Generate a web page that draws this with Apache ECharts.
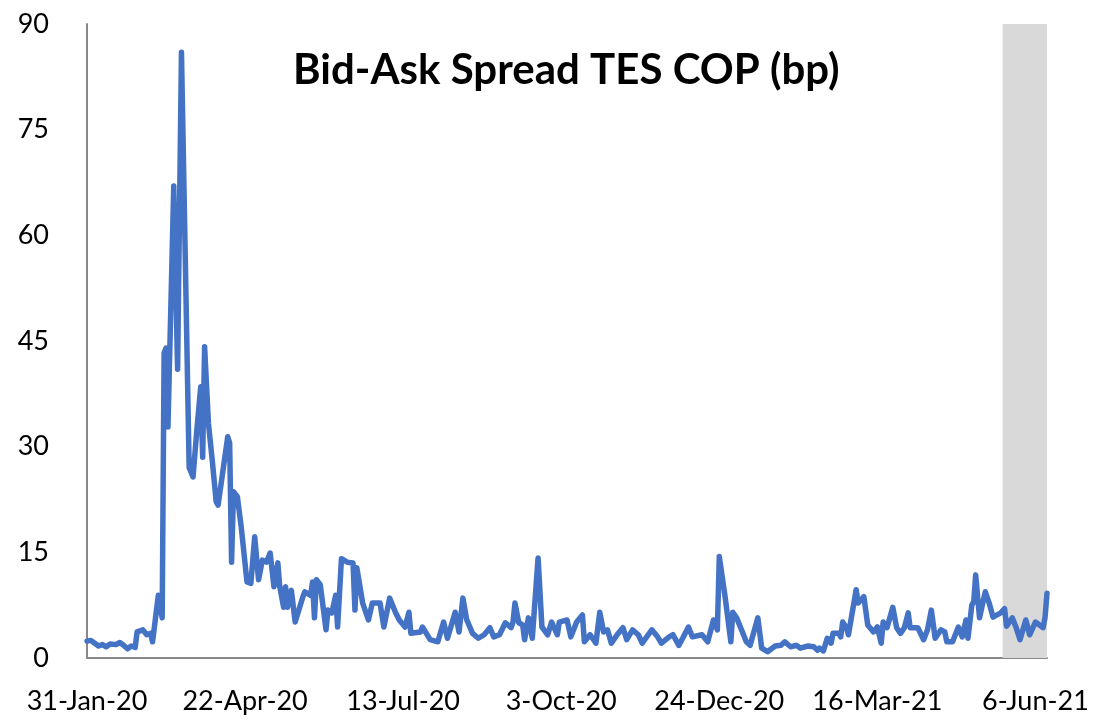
<!DOCTYPE html>
<html>
<head>
<meta charset="utf-8">
<script src="https://cdn.jsdelivr.net/npm/echarts@6/dist/echarts.min.js"></script>
<style>
  html, body { margin: 0; padding: 0; background: #fff; }
  #chart { width: 1102px; height: 725px; }
</style>
</head>
<body>
<div id="chart"></div>
<script>
  // days counted from 31-Jan-20
  const startDate = Date.UTC(2020, 0, 31);
  const days = [
    0, 2, 4, 6, 8, 10, 12, 15, 17, 19, 21, 23, 25, 26, 29, 31, 33, 34, 37, 39,
    40, 41, 42, 45, 47, 49, 53, 55, 57, 59, 60, 61, 63, 65, 67, 68, 73, 74, 75, 76,
    78, 80, 83, 85, 87, 89, 91, 93, 95, 97, 99, 100, 102, 103, 104, 106, 108, 112, 113, 116,
    117, 118, 119, 121, 124, 125, 127, 129, 130, 132, 135, 138, 139, 140, 143, 146, 148, 152, 154, 157,
    160, 162, 165, 167, 168, 173, 174, 178, 182, 185, 187, 191, 193, 195, 197, 200, 203, 206, 209, 211,
    214, 217, 220, 221, 222, 224, 226, 227, 229, 231, 234, 236, 239, 241, 244, 245, 249, 251, 254, 257,
    258, 261, 264, 266, 268, 270, 272, 275, 278, 280, 283, 286, 288, 293, 296, 298, 302, 304, 307, 309,
    312, 314, 319, 322, 325, 327, 328, 331, 334, 335, 337, 340, 342, 344, 348, 350, 353, 354, 357, 360,
    362, 365, 368, 370, 374, 377, 379, 380, 382, 384, 386, 387, 390, 391, 392, 394, 395, 399, 400, 403,
    405, 408, 410, 412, 413, 415, 418, 420, 422, 424, 426, 427, 431, 434, 436, 438, 440, 443, 445, 446,
    449, 452, 454, 456, 457, 459, 460, 461, 462, 463, 465, 466, 468, 470, 474, 476, 477, 480, 482, 484,
    487, 489, 492, 496, 497, 498
  ];
  const spread = [
    2.4, 2.5, 2.1, 1.7, 1.9, 1.6, 2.0, 1.9, 2.2, 1.8, 1.3, 1.7, 1.5, 3.7, 4.0, 3.3, 3.5, 2.3, 8.9, 5.7,
    43.3, 44.0, 32.8, 67.0, 41.0, 86.0, 27.0, 25.7, 32.4, 38.5, 28.5, 44.2, 33.3, 28.0, 22.2, 21.7, 31.4, 30.5, 13.6, 23.6,
    22.9, 18.6, 10.8, 10.6, 17.2, 11.1, 13.9, 13.6, 14.9, 10.1, 13.5, 10.1, 7.2, 10.1, 7.2, 9.6, 5.1, 8.7, 9.4, 8.9,
    10.8, 5.7, 11.1, 10.4, 4.0, 6.8, 6.4, 8.9, 4.4, 14.1, 13.6, 13.5, 6.8, 12.8, 7.8, 5.4, 7.8, 7.8, 4.4, 8.5,
    6.5, 5.4, 4.4, 6.5, 3.5, 3.7, 4.4, 2.6, 2.3, 5.1, 2.8, 6.5, 3.7, 8.5, 5.4, 3.5, 2.8, 3.3, 4.3, 3.0,
    3.3, 5.0, 4.3, 5.1, 7.8, 5.0, 4.7, 2.6, 5.7, 2.8, 14.2, 4.4, 3.3, 5.1, 3.3, 5.1, 5.4, 3.0, 5.1, 6.1,
    2.3, 3.3, 2.1, 6.5, 3.7, 4.0, 2.1, 3.3, 4.3, 2.6, 4.0, 3.3, 2.1, 4.0, 3.0, 2.1, 3.0, 3.3, 1.8, 2.8,
    4.4, 3.0, 3.3, 2.3, 5.4, 4.0, 14.4, 8.7, 2.3, 6.5, 5.7, 3.7, 2.3, 1.8, 5.7, 1.4, 0.9, 0.9, 1.7, 1.8,
    2.3, 1.6, 1.8, 1.4, 1.7, 1.6, 1.1, 1.4, 1.0, 2.8, 2.1, 3.5, 3.5, 3.0, 5.1, 4.3, 3.3, 9.7, 7.8, 8.7,
    4.7, 3.7, 4.4, 2.1, 5.1, 4.3, 7.2, 4.3, 3.5, 4.3, 6.4, 4.3, 4.3, 2.6, 4.0, 6.8, 2.8, 4.0, 3.7, 2.3,
    2.3, 4.4, 3.0, 5.4, 2.8, 7.5, 8.0, 11.8, 11.8, 5.7, 8.2, 9.4, 7.8, 5.8, 6.4, 7.0, 4.5, 5.7, 4.3, 2.6,
    5.4, 3.3, 5.1, 4.3, 5.8, 9.2
  ];
  const shadeFrom = 475;  // ~20-May-21
  const shadeTo = 498;

  const months = ['Jan','Feb','Mar','Apr','May','Jun','Jul','Aug','Sep','Oct','Nov','Dec'];
  function fmtDay(d) {
    const t = new Date(startDate + d * 86400000);
    return t.getUTCDate() + '-' + months[t.getUTCMonth()] + '-' + String(t.getUTCFullYear()).slice(2);
  }

  const chart = echarts.init(document.getElementById('chart'));
  chart.setOption({
    animation: false,
    backgroundColor: '#fff',
    textStyle: { fontFamily: 'Lato' },
    title: {
      text: 'Bid-Ask Spread TES COP (bp)',
      left: 288,
      top: 44,
      textStyle: { fontFamily: 'Lato', fontWeight: 'bold', fontSize: 42, color: '#000' }
    },
    grid: { left: 87, right: 55, top: 24, bottom: 67 },
    xAxis: {
      type: 'value',
      min: 0,
      max: shadeTo,
      interval: 82,
      axisLine: { lineStyle: { color: '#898989', width: 2 } },
      axisTick: { show: false },
      splitLine: { show: false },
      axisLabel: {
        color: '#000',
        fontSize: 27,
        margin: 30,
        showMaxLabel: false,
        formatter: v => (v % 82 === 0 ? fmtDay(v) : '')
      }
    },
    yAxis: {
      type: 'value',
      min: 0,
      max: 90,
      interval: 15,
      axisLine: { show: true, lineStyle: { color: '#898989', width: 2 } },
      axisTick: { show: false },
      splitLine: { show: false },
      axisLabel: { color: '#000', fontSize: 27, margin: 38 }
    },
    series: [{
      type: 'line',
      data: days.map((d, i) => [d, spread[i]]),
      showSymbol: false,
      lineStyle: { color: '#4472C4', width: 5.5, join: 'round', cap: 'round' },
      markArea: {
        silent: true,
        itemStyle: { color: '#D9D9D9' },
        data: [[{ xAxis: shadeFrom }, { xAxis: shadeTo }]]
      },
      z: 3
    }]
  });
</script>
</body>
</html>
